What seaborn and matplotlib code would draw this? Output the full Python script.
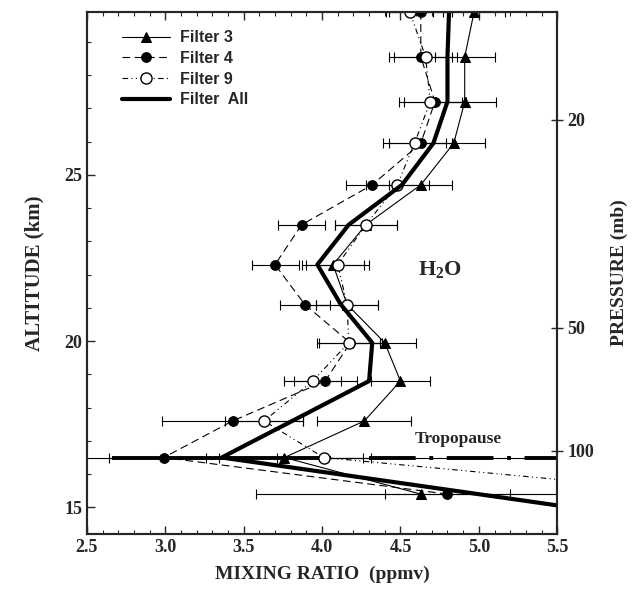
import numpy as np
import pandas as pd
import matplotlib
matplotlib.use("Agg")
import matplotlib.pyplot as plt
import seaborn as sns
from matplotlib.ticker import MultipleLocator, FixedLocator, FormatStrFormatter

# ---------------------------------------------------------------------------
# Data
# ---------------------------------------------------------------------------
alt = [29.9, 28.55, 27.2, 25.95, 24.7, 23.5, 22.3, 21.1, 19.95, 18.8, 17.6, 16.5, 15.4]

f3 = [4.97, 4.91, 4.91, 4.84, 4.63, 4.28, 4.07, 4.16, 4.40, 4.50, 4.27, 3.76, 4.63]
f3_err = [0.2, 0.19, 0.2, 0.2, 0.2, 0.2, 0.2, 0.2, 0.2, 0.19, 0.3, 0.5, 1.05]

f4 = [4.63, 4.63, 4.72, 4.63, 4.32, 3.87, 3.70, 3.89, 4.18, 4.02, 3.43, 2.99, 4.80]
f4_err = [0.2, 0.2, 0.2, 0.2, 0.17, 0.15, 0.15, 0.16, 0.2, 0.2, 0.45, 0.35, 0.4]

f9 = [4.56, 4.66, 4.69, 4.59, 4.48, 4.28, 4.10, 4.16, 4.17, 3.94, 3.63, 4.01, 6.5]
f9_err = [0.15, 0.2, 0.2, 0.2, 0.2, 0.2, 0.2, 0.2, 0.2, 0.18, 0.25, 0.3, 0.0]

# Filter All: last point lies off the right edge, below the lowest level
alt_all = [29.9, 28.55, 27.2, 25.95, 24.7, 23.5, 22.3, 21.1, 19.95, 18.8, 17.6, 16.5, 14.2]
fall = [4.81, 4.80, 4.80, 4.71, 4.51, 4.17, 3.97, 4.12, 4.32, 4.30, 3.81, 3.36, 6.78]
fall_err = [0, 0, 0, 0, 0, 0, 0, 0, 0, 0, 0, 0.7, 0]

TROPOPAUSE_KM = 16.5
TROPO_DASH_X = [4.3, 5.5]

pressure_labels = ["20", "50", "100"]
pressure_alt = [26.65, 20.4, 16.7]

# ---------------------------------------------------------------------------
# Style
# ---------------------------------------------------------------------------
sns.set_style("ticks")
plt.rcParams["font.family"] = ["Liberation Serif", "DejaVu Serif"]
plt.rcParams["mathtext.fontset"] = "custom"
plt.rcParams["mathtext.bf"] = "Liberation Serif:bold"
plt.rcParams["mathtext.rm"] = "Liberation Serif:bold"

fig = plt.figure(figsize=(6.39, 5.94), dpi=100)
ax = fig.add_axes([0.136, 0.101, 0.736, 0.879])

# error bars first
eb_kw = dict(fmt="none", ecolor="black", elinewidth=0.8, capsize=3.5, capthick=0.8, zorder=2)
ax.errorbar(f3, alt, xerr=f3_err, **eb_kw)
ax.errorbar(f4, alt, xerr=f4_err, **eb_kw)
ax.errorbar(f9, alt, xerr=f9_err, **eb_kw)
ax.errorbar(fall, alt_all, xerr=fall_err, fmt="none", ecolor="black",
            elinewidth=2.8, capsize=0, zorder=2)

# tropopause
ax.axhline(TROPOPAUSE_KM, color="black", lw=0.8, zorder=1)
ax.plot(TROPO_DASH_X, [TROPOPAUSE_KM, TROPOPAUSE_KM], color="black", lw=2.8,
        dashes=(12, 3.5, 1, 3.5), zorder=1)
ax.text(4.87, 17.07, "Tropopause", fontsize=12.5, fontweight="bold",
        ha="center", va="center")

# profiles
sns.lineplot(x=f3, y=alt, sort=False, estimator=None, ax=ax, color="black",
             lw=0.8, marker="^", markersize=7.5, markeredgecolor="black",
             label="Filter 3", zorder=3)
sns.lineplot(x=f4, y=alt, sort=False, estimator=None, ax=ax, color="black",
             lw=0.8, linestyle=(0, (7, 4)), marker="o", markersize=7,
             markeredgecolor="black", label="Filter 4", zorder=3)
sns.lineplot(x=f9, y=alt, sort=False, estimator=None, ax=ax, color="black",
             lw=0.8, linestyle=(0, (5, 3, 1, 3, 1, 3)), marker="o", markersize=8,
             markerfacecolor="white", markeredgecolor="black", markeredgewidth=1.0,
             label="Filter 9", zorder=3)
sns.lineplot(x=fall, y=alt_all, sort=False, estimator=None, ax=ax, color="black",
             lw=3.0, label="Filter  All", zorder=4)

ax.text(4.75, 22.15, r"$\mathbf{H_2O}$", fontsize=16, ha="center", va="center")

# axes
ax.set_xlim(2.5, 5.5)
ax.set_ylim(14.2, 29.9)
ax.xaxis.set_major_locator(MultipleLocator(0.5))
ax.xaxis.set_minor_locator(MultipleLocator(0.1))
ax.yaxis.set_major_locator(MultipleLocator(5))
ax.yaxis.set_minor_locator(MultipleLocator(1))
ax.xaxis.set_major_formatter(FormatStrFormatter("%.1f"))
ax.tick_params(axis="x", which="both", direction="in", top=True, bottom=True)
ax.tick_params(axis="y", which="both", direction="in", left=True, right=False)
ax.tick_params(which="major", length=6, width=1, labelsize=13)
ax.tick_params(which="minor", length=3, width=0.8)
for lab in ax.get_xticklabels() + ax.get_yticklabels():
    lab.set_fontweight("bold")
for s in ax.spines.values():
    s.set_linewidth(1.5)
    s.set_visible(True)

ax.set_xlabel("MIXING RATIO  (ppmv)", fontsize=14, fontweight="bold", labelpad=7)
ax.set_ylabel("ALTITUDE (km)", fontsize=15, fontweight="bold", labelpad=14)

ax2 = ax.twinx()
ax2.set_ylim(ax.get_ylim())
ax2.yaxis.set_major_locator(FixedLocator(pressure_alt))
ax2.set_yticklabels(pressure_labels, fontsize=13, fontweight="bold")
ax2.tick_params(axis="y", direction="inout", length=8, width=1)
ax2.set_ylabel("PRESSURE (mb)", fontsize=14, fontweight="bold", labelpad=12)
for s in ax2.spines.values():
    s.set_linewidth(1.5)

leg = ax.legend(loc="upper left", bbox_to_anchor=(0.045, 0.992), frameon=False,
                handlelength=3.0, handletextpad=0.6, labelspacing=0.35,
                prop={"family": "Liberation Sans", "weight": "bold", "size": 11.5})

fig.savefig("out.png", dpi=100)
